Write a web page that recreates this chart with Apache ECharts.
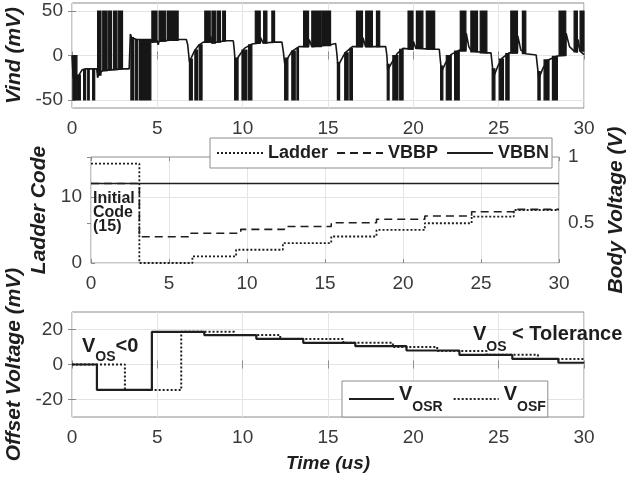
<!DOCTYPE html>
<html><head><meta charset="utf-8">
<script src="https://cdn.jsdelivr.net/npm/echarts@6/dist/echarts.min.js"></script>
<style>html,body{margin:0;padding:0;background:#fff}#c{width:629px;height:480px}</style>
</head><body><div id="c"></div>
<script>
// ---------- DATA ----------
const timeTicks = [0, 5, 10, 15, 20, 25, 30];
const vindTicks = [-50, 0, 50];
const ladderTicks = [0, 10];
const bodyTicks = [0.5, 1];
const offsetTicks = [-20, 0, 20];

// Vind baseline trace (time us, mV)
const vindT = [0,0.06,0.07,0.33,0.41,0.5,0.6,0.8,1.45,1.5,1.6,1.8,2.96,3.35,3.42,3.5,3.8,4.62,4.68,4.98,5.05,5.1,6.22,6.7,6.78,6.88,7.0,7.2,7.45,7.7,8.1,8.12,8.2,8.99,9.45,9.5,9.56,9.8,10.1,10.55,11.03,11.05,11.2,11.9,12.3,12.38,12.46,12.7,12.9,13.3,13.86,13.9,14.05,15.15,15.45,15.52,15.58,15.8,16.0,16.43,17.02,17.05,17.2,18.03,18.38,18.45,18.5,18.8,19.05,19.4,19.98,20.0,20.15,21.25,21.52,21.58,21.65,21.9,22.2,22.69,23.08,23.1,23.25,23.4,24.31,24.55,24.62,24.7,24.95,25.2,25.61,26.1,26.12,26.3,26.59,27.2,27.27,27.35,27.6,27.9,28.44,28.93,28.95,29.15,29.42,29.61,29.65,29.77,30.0];
const vindV = [0,0,-25,-25,-22,-19,-16,-15,-15,-25,-20,-17,-15,-15,24,20,18,18,15,17,12,16,18,18,12,-7,-2,6,12,15,15,22,14,16.5,16.5,8,-7,0,8,13,14,20,14,15,15,5,-9,-1,5,10,10,18,10,12,13.5,2,-12,-4,3,10,10,20,10,10,10,0,-16,-6,2,8,7,16,8,7,7,-5,-18,-8,1,6,6,25,10,5,3,3,-10,-24,-12,-3,3,3,22,6,2,0.5,-12,-26,-14,-5,-0.5,0,25,10,5,4,18,5,1];

// Dense toggling bursts of Vind: start/end time, low/high level (mV)
const burstStart = [0.05,0.33,0.68,0.92,1.21, 1.5,1.8,2.12,2.44,2.71, 3.45,3.7,3.95, 4.68,5.1,5.6, 6.88,7.2,7.45, 7.78,8.2,8.5,8.83, 9.53,9.96,10.35, 10.74,11.23,11.71, 12.46,12.88,13.18, 13.57,14.05,14.65, 15.55,15.98,16.28, 16.67,17.21,17.84, 18.47,18.8,19.2, 19.69,20.18,20.76, 21.6,21.93,22.42, 22.75,23.37,23.92, 24.62,25.03,25.42, 25.71,26.39, 27.3,27.66,28.15, 28.54,29.42,29.77];
const burstEnd   = [0.29,0.49,0.8,1.01,1.33, 1.7,2.05,2.32,2.63,2.96, 3.6,3.85,4.62, 4.98,5.5,6.22, 7.05,7.35,7.62, 8.1,8.4,8.7,8.99, 9.73,10.25,10.54, 11.03,11.42,11.87, 12.65,13.08,13.27, 13.86,14.6,15.15, 15.68,16.18,16.43, 17.02,17.6,18.03, 18.58,19.1,19.4, 19.98,20.56,21.25, 21.73,22.22,22.69, 23.08,23.76,24.31, 24.78,25.28,25.61, 26.1,26.59, 27.43,27.95,28.44, 28.93,29.61,30.0];
const burstLow   = [-50,-50,-50,-50,-50, -22,-17,-16,-16,-15, -50,-50,-50, 15,16,17, -50,-50,-50, 15,14,15,16, -50,-50,-50, 14,14,15, -50,-50,-50, 10,10,11, -50,-50,-50, 10,10,10, -50,-50,-50, 7,8,7, -50,-50,-50, 5,4,3, -50,-50,-50, 3,2, -50,-50,-50, 0,4,5];
const burstHigh  = [0,-22,-16,-15,-15, 50,50,50,50,50, 20,18,18, 50,50,50, -4,6,12, 50,50,50,50, -3,6,12, 50,50,50, -3,5,8, 50,50,50, -8,3,8, 50,50,50, -10,0,7, 50,50,50, -12,0,5, 50,50,50, -15,-4,2, 50,50, -18,-5,-1, 50,50,50];

// Middle panel
const ladderT = [0,3.1,6.5,9.3,12.3,15.4,18.3,21.4,24.4,27.1,30];
const ladderCode = [15,0,1,2,3,4,5,6,7,8,8];
const vbbpT = [0,3.1,6.4,9.6,12.4,15.4,18.3,21.4,24.4,27.1,30];
const vbbpV = [0.80,0.398,0.424,0.454,0.475,0.504,0.530,0.555,0.587,0.605,0.605];
const vbbnT = [0,30];
const vbbnV = [0.80,0.80];

// Bottom panel
const vosrT = [0,1.46,4.68,7.75,10.8,13.55,16.6,19.6,22.7,25.8,28.5,30];
const vosrV = [0,-14.5,18.7,16.8,14.7,12.4,10.5,8,5.5,3.2,1,1];
const vosfT = [0,3.1,6.4,9.5,12.2,15.9,18.8,21.4,24.3,27.3,30];
const vosfV = [0,-14.5,18.7,16.8,14.6,12.4,10,7.7,5.6,3.2,3.2];

// ---------- CHART ----------
const FF = '"Liberation Sans", Arial, Helvetica, sans-serif';
const zip = (a, b) => a.map((x, i) => [x, b[i]]);
const bursts = burstStart.map((s, i) => [s, burstEnd[i], burstLow[i], burstHigh[i]]);

const gridCol = '#e4e4e4';
const borderCol = '#8c8c8c';
const ink = '#161616';
const labelStyle = {fontSize: 19, color: '#3a3a3a', fontFamily: FF, margin: 10};
const nameStyle = {fontSize: 21, fontWeight: 'bold', fontStyle: 'italic', color: '#1e1e1e', fontFamily: FF};
const tickStyle = {show: true, inside: true, length: 4, lineStyle: {color: borderCol}};

function xAx(gi, extra) {
  return Object.assign({
    gridIndex: gi, type: 'value', min: 0, max: 30, interval: 5,
    axisLine: {show: false},
    axisTick: tickStyle,
    axisLabel: Object.assign({}, labelStyle, {margin: 11}),
    splitLine: {show: true, lineStyle: {color: gridCol, width: 1}}
  }, extra || {});
}
function xMirror(gi) {
  return {gridIndex: gi, type: 'value', min: 0, max: 30, interval: 5, position: 'top',
    axisLine: {show: false}, axisTick: tickStyle, axisLabel: {show: false}, splitLine: {show: false}};
}
function yAx(gi, min, max, ticks, extra) {
  return Object.assign({
    gridIndex: gi, type: 'value', min: min, max: max,
    axisLine: {show: false},
    axisTick: Object.assign({}, tickStyle, {customValues: ticks}),
    axisLabel: Object.assign({}, labelStyle, {customValues: ticks, margin: 9}),
    splitLine: {show: true, lineStyle: {color: gridCol, width: 1}},
    nameLocation: 'middle', nameRotate: 90, nameTextStyle: nameStyle
  }, extra || {});
}
function yMirror(gi, min, max, ticks) {
  return {gridIndex: gi, type: 'value', min: min, max: max, position: 'right',
    axisLine: {show: false}, axisTick: Object.assign({}, tickStyle, {customValues: ticks}),
    axisLabel: {show: false}, splitLine: {show: false}};
}

const gridBase = {show: true, borderColor: borderCol, borderWidth: 1, backgroundColor: '#fff', outerBoundsMode: 'none', containLabel: false};

const chart = echarts.init(document.getElementById('c'), null, {renderer: 'canvas'});
chart.setOption({
  animation: false,
  backgroundColor: '#fff',
  textStyle: {fontFamily: FF},
  grid: [
    Object.assign({left: 72, top: 3, width: 512, height: 105}, gridBase),
    Object.assign({left: 91, top: 157, width: 468, height: 106}, gridBase),
    Object.assign({left: 72, top: 312, width: 512, height: 105}, gridBase)
  ],
  xAxis: [
    xAx(0),
    xAx(1),
    xAx(2, {name: 'Time (us)', nameLocation: 'middle', nameGap: 37, nameTextStyle: Object.assign({}, nameStyle, {fontSize: 19})}),
    xMirror(0), xMirror(1), xMirror(2)
  ],
  yAxis: [
    yAx(0, -59, 59, vindTicks, {name: 'Vind (mV)', nameGap: 41}),
    yAx(1, 0, 16, ladderTicks, {name: 'Ladder Code', nameGap: 37}),
    yAx(1, 0.2, 1.0, bodyTicks, {position: 'right', name: 'Body Voltage (V)', nameGap: 45, splitLine: {show: false}}),
    yAx(2, -30, 30, offsetTicks, {name: 'Offset Voltage (mV)', nameGap: 44}),
    yMirror(0, -59, 59, vindTicks),
    yMirror(2, -30, 30, offsetTicks)
  ],
  legend: [
    {
      data: ['Ladder', 'VBBP', 'VBBN'], left: 210, top: 138, orient: 'horizontal',
      itemWidth: 46, itemHeight: 12, itemGap: 8, padding: [6, 3, 6, 6],
      borderColor: '#8c8c8c', borderWidth: 1, backgroundColor: '#fff',
      itemStyle: {opacity: 0},
      textStyle: {fontSize: 18, fontWeight: 'bold', color: '#1e1e1e', fontFamily: FF}
    },
    {
      data: ['VOSR', 'VOSF'], left: 342, top: 381, orient: 'horizontal',
      itemWidth: 45, itemHeight: 12, itemGap: 10, padding: [3, 2, 3, 6],
      borderColor: '#8c8c8c', borderWidth: 1, backgroundColor: '#fff',
      itemStyle: {opacity: 0},
      formatter: function (n) { return '{v|V}{s|' + n.slice(1) + '}'; },
      textStyle: {
        fontFamily: FF, color: '#1e1e1e',
        rich: {
          v: {fontSize: 20, fontWeight: 'bold', fontFamily: FF, color: '#1e1e1e', verticalAlign: 'top'},
          s: {fontSize: 14, fontWeight: 'bold', fontFamily: FF, color: '#1e1e1e', lineHeight: 30, verticalAlign: 'bottom'}
        }
      }
    }
  ],
  series: [
    {
      type: 'custom', xAxisIndex: 0, yAxisIndex: 0, silent: true,
      encode: {x: [0, 1], y: [2, 3]},
      data: bursts,
      renderItem: function (params, api) {
        const p0 = api.coord([api.value(0), api.value(3)]);
        const p1 = api.coord([api.value(1), api.value(2)]);
        return {type: 'rect', shape: {x: p0[0], y: p0[1], width: Math.max(1.2, p1[0] - p0[0]), height: p1[1] - p0[1]},
                style: {fill: ink, stroke: ink, lineWidth: 1.2}};
      }
    },
    {
      name: 'Vind', type: 'line', xAxisIndex: 0, yAxisIndex: 0, data: zip(vindT, vindV),
      symbol: 'none', lineStyle: {color: ink, width: 1.6}
    },
    {
      name: 'Ladder', type: 'line', step: 'end', xAxisIndex: 1, yAxisIndex: 1, data: zip(ladderT, ladderCode),
      symbol: 'none', itemStyle: {color: '#1e1e1e'}, lineStyle: {color: '#1e1e1e', width: 1.8, type: [2, 2]}
    },
    {
      name: 'VBBP', type: 'line', step: 'end', xAxisIndex: 1, yAxisIndex: 2, data: zip(vbbpT, vbbpV),
      symbol: 'none', itemStyle: {color: '#1e1e1e'}, lineStyle: {color: '#1e1e1e', width: 1.6, type: [8, 5]}
    },
    {
      name: 'VBBN', type: 'line', xAxisIndex: 1, yAxisIndex: 2, data: zip(vbbnT, vbbnV),
      symbol: 'none', itemStyle: {color: '#1e1e1e'}, lineStyle: {color: '#1e1e1e', width: 1.6}
    },
    {
      name: 'VOSR', type: 'line', step: 'end', xAxisIndex: 2, yAxisIndex: 3, data: zip(vosrT, vosrV),
      symbol: 'none', itemStyle: {color: '#1e1e1e'}, lineStyle: {color: '#1e1e1e', width: 2.2}
    },
    {
      name: 'VOSF', type: 'line', step: 'end', xAxisIndex: 2, yAxisIndex: 3, data: zip(vosfT, vosfV),
      symbol: 'none', itemStyle: {color: '#1e1e1e'}, lineStyle: {color: '#1e1e1e', width: 2, type: [2, 2]}
    }
  ],
  graphic: [
    {
      type: 'text', left: 93, top: 191, z: 100,
      style: {text: 'Initial\nCode\n(15)', fontSize: 16, fontWeight: 'bold', fontFamily: FF, fill: '#1e1e1e', lineHeight: 14}
    },
    {
      type: 'text', left: 82, top: 336, z: 100,
      style: {
        text: '{v|V}{s|OS}{t|<0}', fill: '#1e1e1e',
        rich: {
          v: {fontSize: 20, fontWeight: 'bold', fontFamily: FF, fill: '#1e1e1e', verticalAlign: 'top'},
          s: {fontSize: 14, fontWeight: 'bold', fontFamily: FF, fill: '#1e1e1e', lineHeight: 28, verticalAlign: 'bottom'},
          t: {fontSize: 20, fontWeight: 'bold', fontFamily: FF, fill: '#1e1e1e', verticalAlign: 'top'}
        }
      }
    },
    {
      type: 'text', left: 473, top: 324, z: 100,
      style: {
        text: '{v|V}{s|OS}{t| < Tolerance}', fill: '#1e1e1e',
        rich: {
          v: {fontSize: 20, fontWeight: 'bold', fontFamily: FF, fill: '#1e1e1e', verticalAlign: 'top'},
          s: {fontSize: 14, fontWeight: 'bold', fontFamily: FF, fill: '#1e1e1e', lineHeight: 30, verticalAlign: 'bottom'},
          t: {fontSize: 20, fontWeight: 'bold', fontFamily: FF, fill: '#1e1e1e', verticalAlign: 'top'}
        }
      }
    }
  ]
});
</script>
</body></html>
